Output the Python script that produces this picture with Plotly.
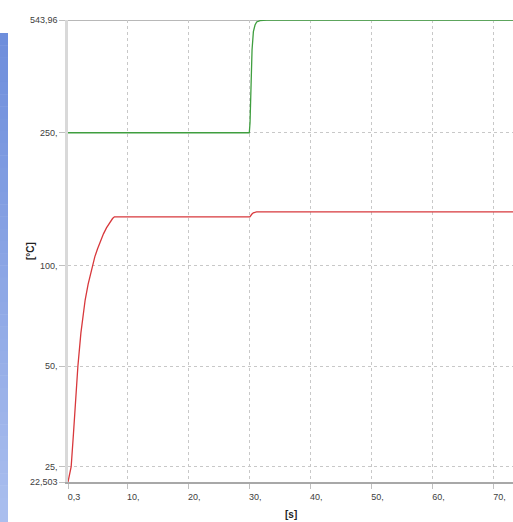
import plotly.graph_objects as go
import math

# ---- data ----
green_t = [0.3, 30.0, 30.12, 30.23, 30.34, 30.45, 30.67, 30.94, 31.21, 31.76, 32.85, 73.2]
green_v = [250, 250, 268, 320.6, 385.3, 442.4, 502, 525.5, 536.5, 541.3, 543.96, 543.96]

red_t = [0.3, 0.5, 0.82, 1.2, 1.55, 1.92, 2.41, 3.11, 3.6, 4.21, 4.7, 5.13, 5.6, 6.11, 6.6,
         7.21, 7.6, 7.9, 30.1, 30.4, 30.66, 31.2, 73.2]
red_v = [22.503, 23.5, 25, 31.5, 39.5, 50, 62.8, 78.9, 88.1, 98.9, 106.4, 112.2, 118.3, 124.5,
         129.7, 135.5, 138.4, 140, 140, 142.5, 144, 144.8, 144.8]

x_tickvals = [0.3, 10, 20, 30, 40, 50, 60, 70]
x_ticktext = ["0,3", "10,", "20,", "30,", "40,", "50,", "60,", "70,"]
y_tickvals = [22.503, 25, 50, 100, 250, 543.96]
y_ticktext = ["22,503", "25,", "50,", "100,", "250,", "543,96"]

x_range = [0.3, 73.2]
y_min, y_max = 22.503, 543.96

W, H = 513, 522
ML, MR, MT, MB = 68, 0, 20, 40
PW, PH = W - ML - MR, H - MT - MB

fig = go.Figure()
fig.add_trace(go.Scatter(x=green_t, y=green_v, mode="lines",
                         line=dict(color="#3f9e3f", width=1.3), showlegend=False))
fig.add_trace(go.Scatter(x=red_t, y=red_v, mode="lines",
                         line=dict(color="#d8383c", width=1.3), showlegend=False))

shapes = []
# top border line at max value
shapes.append(dict(type="line", xref="paper", yref="y", x0=0, x1=1, y0=y_max, y1=y_max,
                   line=dict(color="#b8b8b8", width=2), layer="below"))
# left gradient bar
n = 40
top_py, bot_py = 33, 522
c0 = (110, 142, 220)
c1 = (170, 190, 238)
for i in range(n):
    py0 = top_py + (bot_py - top_py) * i / n
    py1 = top_py + (bot_py - top_py) * (i + 1) / n + 0.5
    f = i / (n - 1)
    col = "rgb(%d,%d,%d)" % tuple(round(a + (b - a) * f) for a, b in zip(c0, c1))
    shapes.append(dict(type="rect", xref="paper", yref="paper",
                       x0=(0 - ML) / PW, x1=(8 - ML) / PW,
                       y0=(H - MB - py1) / PH, y1=(H - MB - py0) / PH,
                       fillcolor=col, line=dict(width=0), layer="below"))

annotations = [
    dict(text="<b>[s]</b>", xref="paper", yref="paper", x=0.5, y=0, yshift=-32,
         showarrow=False, xanchor="center", yanchor="middle",
         font=dict(family="Liberation Sans", size=10, color="#222222")),
    dict(text="<b>[°C]</b>", xref="paper", yref="paper", x=0, xshift=-38, y=0.5,
         showarrow=False, xanchor="center", yanchor="middle", textangle=-90,
         font=dict(family="Liberation Sans", size=10, color="#222222")),
]

tickfont = dict(family="Liberation Sans", size=9, color="#404040")

fig.update_layout(
    width=W, height=H,
    margin=dict(l=ML, r=MR, t=MT, b=MB),
    paper_bgcolor="white", plot_bgcolor="white",
    shapes=shapes, annotations=annotations,
    xaxis=dict(range=x_range, tickvals=x_tickvals, ticktext=x_ticktext,
               showgrid=True, gridcolor="#c8c8c8", griddash="3px,3px", gridwidth=1,
               showline=True, linecolor="#a8a8a8", linewidth=1.5,
               ticks="outside", ticklen=5, tickcolor="#c0c0c0", tickwidth=1,
               ticklabelshift=6, tickfont=tickfont, zeroline=False, fixedrange=True),
    yaxis=dict(type="log", range=[math.log10(y_min), math.log10(y_max)],
               tickvals=y_tickvals, ticktext=y_ticktext,
               showgrid=True, gridcolor="#c8c8c8", griddash="3px,3px", gridwidth=1,
               showline=True, linecolor="#d9d9d9", linewidth=2.5,
               ticks="outside", ticklen=6, tickcolor="#c0c0c0", tickwidth=1,
               tickfont=tickfont, zeroline=False, fixedrange=True),
)

fig.write_html("out.html", config={"displayModeBar": False})
